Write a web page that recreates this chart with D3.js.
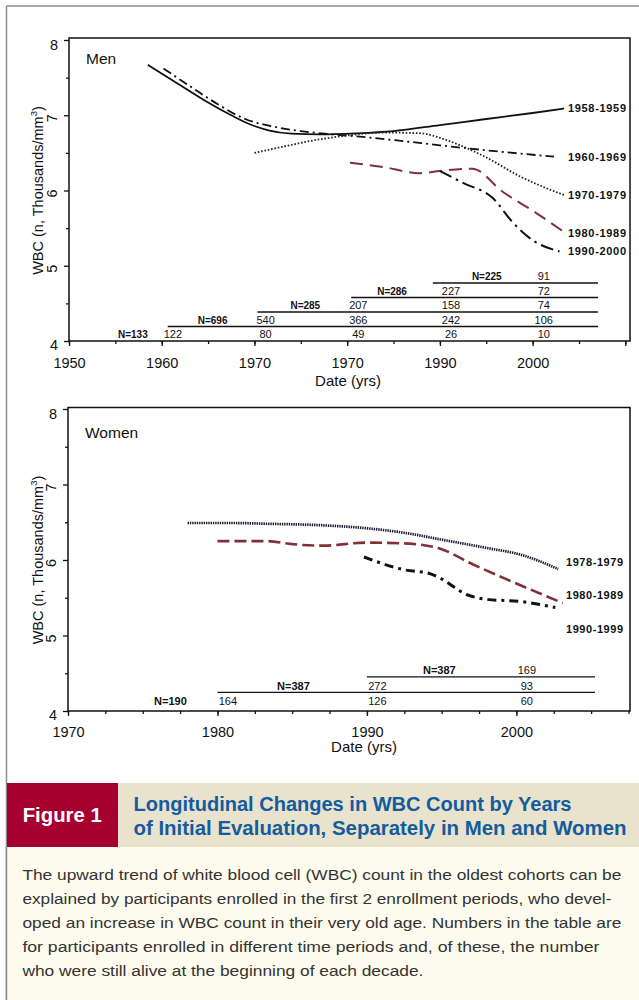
<!DOCTYPE html>
<html><head><meta charset="utf-8">
<script src="https://cdn.jsdelivr.net/npm/d3@7"></script>
<style>
html,body{margin:0;padding:0;background:#fff;}
svg{display:block;font-family:"Liberation Sans",Arial,Helvetica,sans-serif;}
</style></head><body>
<svg id="c" width="639" height="1000"></svg>
<script>
// ---------------- DATA ----------------
const menSeriesNames = ["1958-1959","1960-1969","1970-1979","1980-1989","1990-2000"];
const men1958 = [[1958.5,7.67],[1962,7.40],[1965,7.17],[1967.5,7.00],[1969.5,6.88],[1971.5,6.80],[1974,6.755],[1977,6.745],[1981,6.76],[1985,6.79],[1990,6.87],[1995,6.95],[2000,7.03],[2003.4,7.09]];
const men1960 = [[1960.2,7.62],[1963,7.39],[1966,7.15],[1969,6.95],[1972,6.85],[1975,6.79],[1978,6.75],[1981,6.72],[1985,6.67],[1988,6.63],[1990,6.60],[1993,6.56],[1997,6.51],[2002.3,6.45]];
const men1970 = [[1970,6.50],[1973,6.58],[1977,6.68],[1980,6.73],[1984,6.77],[1988,6.76],[1990,6.70],[1992,6.61],[1995,6.44],[1998.6,6.19],[2001.5,6.03],[2003.4,5.94]];
const men1980 = [[1980.3,6.37],[1984,6.31],[1987.8,6.23],[1990,6.26],[1993.5,6.29],[1996.8,5.98],[2000.4,5.70],[2003.6,5.43]];
const men1990 = [[1990,6.26],[1992.5,6.10],[1995.7,5.90],[1997.9,5.57],[2000,5.34],[2002.9,5.19]];

const womenSeriesNames = ["1978-1979","1980-1989","1990-1999"];
const women1978 = [[1978,6.49],[1981,6.49],[1983.3,6.48],[1987,6.46],[1990,6.42],[1992.5,6.36],[1995,6.27],[1998,6.16],[2000.3,6.07],[2002.8,5.88]];
const women1980 = [[1980,6.25],[1983.3,6.25],[1985,6.21],[1987,6.19],[1990,6.23],[1992.5,6.22],[1994.9,6.15],[1996.9,5.96],[1999.4,5.74],[2003.1,5.43]];
const women1990 = [[1989.8,6.04],[1992.5,5.87],[1994.2,5.82],[1994.9,5.76],[1996.7,5.54],[1998,5.48],[2000.3,5.45],[2002.6,5.37]];

const menTickYears = [1950,1960,1970,1980,1990,2000,2010];
const menTickLabels = ["1950","1960","1970","1970","1990","2000",""];
const womenTickYears = [1970,1980,1990,2000];
const womenTickLabels = ["1970","1980","1990","2000"];
const yTickValues = [4,5,6,7,8];
const yTickLabels = ["4","5","6","7","8"];

const menTableN = ["N=133","N=696","N=285","N=286","N=225"];
const menTableCounts = [[122,80,49,26,10],[540,366,242,106],[207,158,74],[227,72],[91]];
const menTableDecades = [1960,1970,1980,1990,2000];

const womenTableN = ["N=190","N=387","N=387"];
const womenTableCounts = [[164,126,60],[272,93],[169]];
const womenTableDecades = [1980,1990,2000];

const captionLabel = "Figure 1";
const captionTitle = ["Longitudinal Changes in WBC Count by Years","of Initial Evaluation, Separately in Men and Women"];
const captionBody = [
 "The upward trend of white blood cell (WBC) count in the oldest cohorts can be",
 "explained by participants enrolled in the first 2 enrollment periods, who devel-",
 "oped an increase in WBC count in their very old age. Numbers in the table are",
 "for participants enrolled in different time periods and, of these, the number",
 "who were still alive at the beginning of each decade."
];

// ---------------- STYLES / LAYOUT ----------------
const MAROON = "#823037";
const menStyles = [
  {stroke:"#111", w:1.8, dash:null},
  {stroke:"#111", w:1.8, dash:"9,4,2,4"},
  {stroke:"#222", w:1.8, dash:"1.6,1.8"},
  {stroke:MAROON, w:2, dash:"13,7"},
  {stroke:"#111", w:2, dash:"13,5,2.5,5"}
];
const womenStyles = [
  {stroke:"#1a1a36", w:2.7, dash:"1.4,0.9"},
  {stroke:MAROON, w:2.6, dash:"12,5"},
  {stroke:"#111", w:3, dash:"9,5,3,5"}
];
const womenLabelAt = [5.98, 5.54, 5.08];

const svg = d3.select("#c");

// page background decorations
svg.append("line").attr("x1",6.5).attr("x2",639).attr("y1",6).attr("y2",6).attr("stroke","#8c8c8c").attr("stroke-width",1.5);
svg.append("line").attr("x1",6.5).attr("x2",6.5).attr("y1",6).attr("y2",1000).attr("stroke","#8c8c8c").attr("stroke-width",1.5);

function panel(o){
  const g = svg.append("g");
  const x = d3.scaleLinear().domain(o.xDomain).range([o.left, o.right]);
  const y = d3.scaleLinear().domain([4,8]).range([o.bottom, o.top8]);

  // minor x ticks
  const minor = [];
  for(let v=o.xDomain[0]; v<=o.xDomain[1]+1e-9; v+=o.minorStep) minor.push(v);
  g.append("g").attr("transform",`translate(0,${o.bottom})`)
    .call(d3.axisBottom(x).tickValues(minor).tickSize(3).tickFormat(""))
    .call(s=>s.select(".domain").remove())
    .selectAll("line").attr("stroke","#111").attr("stroke-width",1.3);
  // major x ticks
  const ax = g.append("g").attr("transform",`translate(0,${o.bottom})`)
    .call(d3.axisBottom(x).tickValues(o.tickYears).tickSize(5).tickFormat((d,i)=>o.tickLabels[i]))
    .call(s=>s.select(".domain").remove());
  ax.selectAll("line").attr("stroke","#111").attr("stroke-width",1.3);
  ax.selectAll("text").attr("font-size",14.5).attr("font-family",'"Liberation Sans",Arial,sans-serif')
    .attr("fill","#111").attr("y",o.tickTextY).attr("dy","0.71em");

  // y ticks
  const minorY = [4.5,5.5,6.5,7.5];
  g.append("g").attr("transform",`translate(${o.left},0)`)
    .call(d3.axisLeft(y).tickValues(minorY).tickSize(3).tickFormat(""))
    .call(s=>s.select(".domain").remove())
    .selectAll("line").attr("stroke","#111").attr("stroke-width",1.3);
  g.append("g").attr("transform",`translate(${o.left},0)`)
    .call(d3.axisLeft(y).tickValues(yTickValues).tickSize(5).tickFormat(""))
    .call(s=>s.select(".domain").remove())
    .selectAll("line").attr("stroke","#111").attr("stroke-width",1.3);
  // y tick labels (4 and 8 upright, 5-7 rotated as in the figure)
  yTickValues.forEach((v,i)=>{
    const t = g.append("text").text(yTickLabels[i]).attr("font-size",14.5).attr("fill","#111");
    if(v===4||v===8){
      t.attr("x",o.left-11).attr("y",y(v)+(v===8?10:9)).attr("text-anchor","end");
    } else {
      t.attr("text-anchor","middle").attr("transform",`translate(${o.left-12},${y(v)+3}) rotate(-90)`);
    }
  });

  // frame
  g.append("rect").attr("x",o.left).attr("y",o.frameTop).attr("width",o.right-o.left).attr("height",o.bottom-o.frameTop)
    .attr("fill","none").attr("stroke","#111").attr("stroke-width",1.5);

  // axis titles
  const yt = g.append("text").attr("font-size",14.5).attr("fill","#111").attr("text-anchor","middle")
    .attr("transform",`translate(42.5,${(o.top8+o.bottom)/2}) rotate(-90)`);
  yt.append("tspan").text("WBC (n, Thousands/mm");
  yt.append("tspan").text("3").attr("font-size",9.5).attr("dy",-6);
  yt.append("tspan").text(")").attr("dy",6);
  g.append("text").text("Date (yrs)").attr("font-size",15).attr("fill","#111").attr("text-anchor","middle")
    .attr("x",o.dateX).attr("y",o.dateY);
  g.append("text").text(o.title).attr("font-size",15.5).attr("fill","#111").attr("x",o.left+17).attr("y",o.titleY);

  // series
  const line = d3.line().x(d=>x(d[0])).y(d=>y(d[1])).curve(d3.curveMonotoneX);
  o.series.forEach((s,i)=>{
    const st = o.styles[i];
    g.append("path").datum(s).attr("d",line).attr("fill","none").attr("stroke",st.stroke)
      .attr("stroke-width",st.w).attr("stroke-dasharray",st.dash).attr("stroke-linejoin","round");
    const last = s[s.length-1];
    const ly = o.labelAt ? y(o.labelAt[i]) : y(last[1]);
    g.append("text").text(o.names[i]).attr("x",o.labelX).attr("y",ly+4)
      .attr("font-size",11).attr("font-weight","bold").attr("fill","#111")
      .attr("textLength",o.labelLen).attr("lengthAdjust","spacing");
  });

  // table
  const colX = c => x(o.tDecades[c] + o.colShift);
  o.tCounts.forEach((row,r)=>{
    const ly = o.bottom - o.rowLine0 - r*o.rowStep;
    if(r>0){
      g.append("line").attr("x1",x(o.tDecades[r-1])+o.lineShift[r]).attr("x2",o.lineEnd)
        .attr("y1",ly).attr("y2",ly).attr("stroke","#111").attr("stroke-width",1.3);
    }
    const by = ly - 2.6;
    g.append("text").text(o.tN[r]).attr("x",colX(r)+o.nOffset[r]).attr("y",by)
      .attr("text-anchor","middle").attr("font-weight","bold").attr("font-size",o.nFont).attr("fill","#111");
    row.forEach((v,k)=>{
      g.append("text").text(v).attr("x",colX(r+k)).attr("y",by).attr("text-anchor","middle")
        .attr("font-size",o.numFont).attr("fill","#111");
    });
  });
}

panel({
  xDomain:[1950,2010.5], left:69, right:630, bottom:341, top8:40, frameTop:38,
  minorStep:5, tickYears:menTickYears, tickLabels:menTickLabels, tickTextY:16.5,
  dateX:348, dateY:386, title:"Men", titleY:64,
  series:[men1958,men1960,men1970,men1980,men1990], styles:menStyles, names:menSeriesNames,
  labelX:568, labelLen:58,
  tN:menTableN, tCounts:menTableCounts, tDecades:menTableDecades, colShift:1.2,
  rowLine0:0, rowStep:14.5, lineShift:[0,6,3,4,-7], lineEnd:598, nOffset:[-40,-53,-53,-59,-57], nFont:10, numFont:11
});

panel({
  xDomain:[1970,2007.6], left:68, right:630, bottom:711, top8:409, frameTop:407.5,
  minorStep:2.5, tickYears:womenTickYears, tickLabels:womenTickLabels, tickTextY:15.5,
  dateX:364, dateY:752, title:"Women", titleY:438,
  series:[women1978,women1980,women1990], styles:womenStyles, names:womenSeriesNames,
  labelX:566, labelLen:57, labelAt:womenLabelAt,
  tN:womenTableN, tCounts:womenTableCounts, tDecades:womenTableDecades, colShift:0.7,
  rowLine0:3, rowStep:15.6, lineShift:[0,0,0], lineEnd:595, nOffset:[-57.5,-84,-87.5], nFont:11, numFont:11
});

// ---------------- CAPTION ----------------
svg.append("rect").attr("x",7).attr("y",783).attr("width",111).attr("height",64).attr("fill","#a6002f");
svg.append("rect").attr("x",118).attr("y",783).attr("width",521).attr("height",64).attr("fill","#e9e2cc");
svg.append("rect").attr("x",7.25).attr("y",847).attr("width",632).attr("height",153).attr("fill","#fdfbee");
svg.append("line").attr("x1",6.5).attr("x2",6.5).attr("y1",847).attr("y2",1000).attr("stroke","#8c8c8c").attr("stroke-width",1.5);

svg.append("text").text(captionLabel).attr("x",22.7).attr("y",822).attr("fill","#fff")
  .attr("font-size",20).attr("font-weight","bold").attr("textLength",79).attr("lengthAdjust","spacingAndGlyphs");
const titleLens = [438,493];
captionTitle.forEach((t,i)=>{
  svg.append("text").text(t).attr("x",133.5).attr("y",810.5+i*24).attr("fill","#135c9e")
    .attr("font-size",19.5).attr("font-weight","bold")
    .attr("textLength",titleLens[i]).attr("lengthAdjust","spacingAndGlyphs");
});
const bodyLens = [599,589,599,577,401];
captionBody.forEach((t,i)=>{
  svg.append("text").text(t).attr("x",22.4).attr("y",879.5+i*24).attr("fill","#333")
    .attr("font-size",15.5).attr("textLength",bodyLens[i]).attr("lengthAdjust","spacingAndGlyphs");
});
</script></body></html>
